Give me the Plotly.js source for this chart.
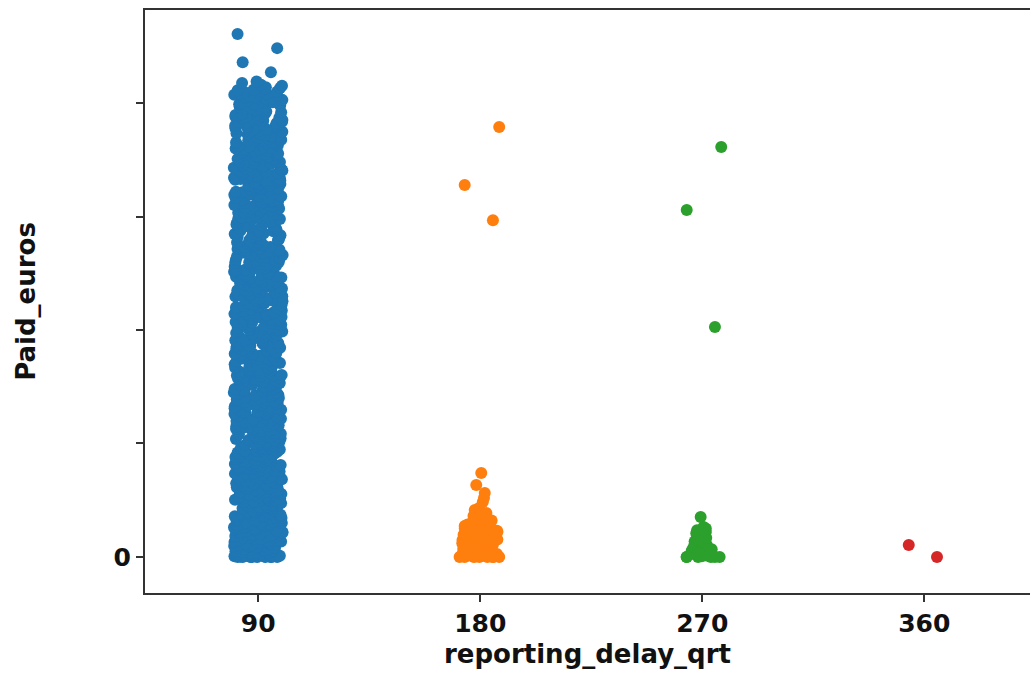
<!DOCTYPE html>
<html>
<head>
<meta charset="utf-8">
<script src="https://cdn.plot.ly/plotly-3.0.1.min.js"></script>
<style>html,body{margin:0;padding:0;background:#fff;}#chart{width:1030px;height:679px;}</style>
</head>
<body>
<div id="chart"></div>
<script>
// Categories (reporting delay in days)
const categories = ['90', '180', '270', '360'];
const colors = ['#1f77b4', '#ff7f0e', '#2ca02c', '#d62728'];

// Paid amounts (thousand euros)
const paid90 = [
0,0,0,0,0,0,0.1,0.2,0.3,0.3,0.5,0.6,0.8,0.9,1.1,1.3,1.4,1.7,1.9,2.2,2.4,2.7,2.9,3.2,3.5,3.7,4.1,4.4,4.6,5.0,5.3,5.5,5.9,6.2,6.6,6.8,7.3,7.6,7.9,8.3,8.6,8.9,9.2,9.5,9.8,
10.1,10.5,10.8,11.0,11.4,11.7,12.0,12.2,12.6,12.9,13.1,13.5,13.8,14.0,14.4,14.6,14.9,15.3,15.5,15.9,16.2,16.4,16.8,17.1,17.3,17.7,18.0,18.2,18.6,18.9,19.1,19.4,19.6,19.8,20.0,
20.3,20.6,21.0,21.2,21.5,21.9,22.2,22.4,22.8,23.1,23.3,23.7,24.0,24.3,24.5,24.9,25.2,25.6,25.8,26.1,26.5,26.8,27.0,27.4,27.7,28.0,28.3,28.5,28.9,29.2,29.5,29.8,
30.2,30.5,30.9,31.2,31.6,31.8,32.2,32.5,32.9,33.3,33.5,33.9,34.2,34.6,34.8,35.2,35.6,35.9,36.2,36.5,36.9,37.2,37.6,37.8,38.2,38.5,38.9,39.2,39.5,39.8,
40.2,40.5,40.9,41.3,41.6,41.9,42.3,42.6,42.9,43.3,43.6,44.0,44.3,44.6,44.9,45.3,45.6,46.0,46.3,46.6,47.0,47.3,47.6,48.0,48.3,48.6,49.0,49.3,49.6,49.9,
50.3,50.6,51.0,51.3,51.7,52.0,52.3,52.7,53.0,53.3,53.7,54.0,54.3,54.7,55.0,55.4,55.7,56.0,56.4,56.7,57.0,57.4,57.7,58.0,58.4,58.7,59.0,59.3,59.6,59.9,
60.3,60.7,61.1,61.5,61.9,62.2,62.6,63.0,63.4,63.8,64.1,64.5,64.9,65.3,65.7,66.0,66.4,66.8,67.2,67.6,68.0,68.3,68.7,69.1,69.5,69.9,
70.3,70.8,71.2,71.6,72.1,72.5,72.9,73.4,73.8,74.2,74.7,75.1,75.5,76.0,76.4,76.8,77.3,77.7,78.1,78.6,79.0,79.4,79.7,79.9,
80.2,80.6,81.1,81.4,81.9,82.3,82.6,83.1,83.5,83.8,84.3,84.7,85.0,85.5,85.9,86.2,86.7,87.1,87.4,87.9,88.3,88.6,89.1,89.5,89.8,
90.3,90.7,91.0,91.5,91.9,92.2,92.7,93.1,93.4,93.9,94.3,94.6,95.1,95.5,95.8,96.3,96.7,97.0,97.5,97.9,98.2,98.7,99.1,99.4,99.9,
100.2,100.7,101.1,101.4,101.9,102.3,102.6,103.1,103.5,103.8,104.3,104.7,105.0,105.5,105.9,106.2,106.7,107.1,107.4,107.9,108.3,108.6,109.1,109.5,109.8,
110.3,110.6,111.1,111.5,111.8,112.3,112.7,113.0,113.5,113.9,114.2,114.7,115.1,115.4,115.9,116.3,116.6,117.1,117.5,117.8,118.3,118.7,119.0,119.5,119.9,
120.2,120.7,121.1,121.4,121.9,122.3,122.6,123.1,123.5,123.8,124.3,124.7,125.0,125.5,125.9,126.2,126.7,127.1,127.4,127.9,128.3,128.6,129.1,129.5,129.8,
130.3,130.6,131.1,131.5,131.8,132.3,132.7,133.0,133.5,133.9,134.2,134.7,135.1,135.4,135.9,136.3,136.6,137.1,137.5,137.8,138.3,138.7,139.0,139.5,139.9,
140.2,140.7,141.1,141.4,141.9,142.3,142.6,143.1,143.5,143.8,144.3,144.7,145.0,145.5,145.9,146.2,146.7,147.1,147.4,147.9,148.3,148.6,149.1,149.5,149.8,
150.3,150.6,151.1,151.5,151.8,152.3,152.7,153.0,153.5,153.9,154.2,154.7,155.1,155.4,155.9,156.3,156.6,157.1,157.5,157.8,158.3,158.7,159.0,159.5,159.9,
160.2,160.7,161.1,161.4,161.9,162.3,162.6,163.1,163.5,163.8,164.3,164.7,165.0,165.5,165.9,166.2,166.7,167.1,167.4,167.9,168.3,168.6,169.1,169.5,169.8,
170.3,170.6,171.1,171.5,171.8,172.3,172.7,173.0,173.5,173.9,174.2,174.7,175.1,175.4,175.9,176.3,176.6,177.1,177.5,177.8,178.3,178.7,179.0,179.5,179.9,
180.2,180.7,181.1,181.4,181.9,182.3,182.6,183.1,183.5,183.8,184.3,184.7,185.0,185.5,185.9,186.2,186.7,187.1,187.4,187.9,188.3,188.6,189.1,189.5,189.8,
190.3,190.6,191.1,191.5,191.8,192.3,192.7,193.0,193.5,193.9,194.2,194.7,195.1,195.4,195.9,196.3,196.6,197.1,197.5,197.8,198.3,198.7,199.0,199.5,199.9,
200.3,200.9,201.4,202.0,202.6,203.1,203.7,204.2,204.8,205.3,205.9,206.4,207.0,207.6,208.1,208.8,209.5
];

// more claims in the 90-day group (the column is almost solid)
const paid90More = [
0,0,0,0.15,0.45,0.75,1.2,1.6,2.0,2.6,3.0,3.4,3.9,4.3,4.8,5.4,5.8,6.4,7.0,7.5,8.0,8.5,9.0,9.7,
10.3,10.9,11.6,12.4,13.0,13.7,14.2,14.7,15.2,15.8,16.6,17.2,17.9,18.5,19.2,
20.5,21.4,22.0,22.6,23.5,24.2,24.7,25.4,26.3,27.2,27.9,28.7,29.4,30.0,
30.7,31.4,32.0,32.7,33.6,34.4,35.0,35.8,36.7,37.4,38.0,38.7,39.4,
40.0,40.7,41.5,42.1,42.8,43.5,44.1,44.8,45.5,46.2,46.8,47.5,48.2,48.8,49.5,
50.1,50.8,51.5,52.2,52.8,53.5,54.2,54.8,55.5,56.2,56.9,57.5,58.2,58.9,59.5,
60.1,60.9,61.7,62.4,63.2,64.0,64.7,65.5,66.2,67.0,67.8,68.5,69.3,
70.0,70.6,71.4,72.3,73.1,74.0,74.9,75.8,76.6,77.5,78.4,79.2,
80.0,80.9,81.7,82.5,83.3,84.0,84.9,85.7,86.5,87.3,88.1,88.9,89.6,
90.5,91.3,92.0,92.9,93.7,94.5,95.3,96.0,96.9,97.7,98.5,99.3,
100.0,100.9,101.7,102.5,103.3,104.0,104.9,105.7,106.5,107.3,108.0,108.9,109.6,
110.0,110.9,111.7,112.5,113.3,114.0,114.9,115.7,116.5,117.3,118.0,118.9,119.6,
120.0,120.9,121.7,122.5,123.3,124.0,124.9,125.7,126.5,127.3,128.0,128.9,129.6,
130.0,130.9,131.7,132.5,133.3,134.0,134.9,135.7,136.5,137.3,138.0,138.9,139.6,
140.0,140.9,141.7,142.5,143.3,144.0,144.9,145.7,146.5,147.3,148.0,148.9,149.6,
150.0,150.9,151.7,152.5,153.3,154.0,154.9,155.7,156.5,157.3,158.0,158.9,159.6,
160.0,160.9,161.7,162.5,163.3,164.0,164.9,165.7,166.5,167.3,168.0,168.9,169.6,
170.0,170.9,171.7,172.5,173.3,174.0,174.9,175.7,176.5,177.3,178.0,178.9,179.6,
180.0,180.9,181.7,182.5,183.3,184.0,184.9,185.7,186.5,187.3,188.0,188.9,189.6,
190.0,190.9,191.7,192.5,193.3,194.0,194.9,195.7,196.5,197.3,198.0,198.9,199.6,
200.0,200.7,201.7,202.4,203.4,204.0,205.0,205.6,206.6
];
const paid90High = [213.6, 218.0, 224.2, 230.4];

const paid180 = [
0,0,0,0,0,0,0,0,0.2,0.3,0.5,0.6,0.8,1.0,1.1,1.3,1.5,1.6,1.8,2.0,2.1,2.3,2.5,2.6,2.8,3.0,3.1,3.3,3.5,3.6,
3.8,4.0,4.1,4.3,4.5,4.6,4.8,5.0,5.2,5.3,5.5,5.7,5.8,6.0,6.2,6.3,6.5,6.7,6.9,7.0,7.2,7.4,7.5,7.7,7.9,8.1,
8.2,8.4,8.6,8.8,8.9,9.1,9.3,9.5,9.6,9.8,10.0,10.2,10.4,10.5,10.7,10.9,11.1,11.3,11.5,11.7,11.9,12.1,12.3,
12.5,12.7,12.9,13.1,13.4,13.6,13.8,14.1,14.3,14.6,14.8,15.1,15.4,15.7,16.0,16.4,16.8,17.3,18.0,18.7,19.4,
20.7,21.6,24.2,26.0,28.2,31.7,37.0
];
const paid180High = [148.4, 163.9, 189.4];

const paid270 = [
0,0,0,0,0,0,0.3,0.6,1.0,1.3,1.6,2.0,2.3,2.7,3.0,3.4,3.8,4.2,4.6,5.0,5.4,5.8,6.3,6.8,7.3,7.8,8.4,9.0,9.7,
10.4,11.0,11.8,12.5,13.2,17.6
];
const paid270High = [101.3, 152.9, 180.6];

const paid360 = [0, 5.3];

// Tick labels on the value axis (only zero is labelled in the reference)
const yTickVals = [0, 50, 100, 150, 200];
const yTickText = ['0', '', '', '', ''];

const groups = [
  {cat: '90', values: paid90.concat(paid90More), color: colors[0]},
  {cat: '90', values: paid90High, color: colors[0]},
  {cat: '180', values: paid180, color: colors[1]},
  {cat: '180', values: paid180High, color: colors[1]},
  {cat: '270', values: paid270, color: colors[2]},
  {cat: '270', values: paid270High, color: colors[2]},
  {cat: '360', values: paid360, color: colors[3]}
];

const traces = groups.map(g => ({
  type: 'box',
  name: g.cat,
  x0: g.cat,
  y: g.values,
  boxpoints: 'all',
  jitter: 1,
  pointpos: 0,
  width: 0.22,
  fillcolor: 'rgba(0,0,0,0)',
  line: {width: 0, color: 'rgba(0,0,0,0)'},
  marker: {color: g.color, size: 12, opacity: 1, line: {width: 0}},
  hoveron: 'points',
  showlegend: false
}));

const tickFont = {family: 'DejaVu Sans', size: 25, weight: 'bold', color: '#111'};
const titleFont = {family: 'DejaVu Sans', size: 26, weight: 'bold', color: '#111'};

const layout = {
  width: 1030,
  height: 679,
  margin: {l: 145, r: 0, t: 10, b: 86},
  paper_bgcolor: '#fff',
  plot_bgcolor: '#fff',
  showlegend: false,
  boxmode: 'overlay',
  xaxis: {
    type: 'category',
    categoryorder: 'array',
    categoryarray: categories,
    range: [-0.51, 3.476],
    showgrid: false,
    zeroline: false,
    showline: true,
    mirror: true,
    linecolor: '#333',
    linewidth: 2,
    ticks: 'outside',
    ticklen: 7,
    tickwidth: 2,
    tickcolor: '#333',
    tickfont: tickFont,
    title: {text: 'reporting_delay_qrt', font: titleFont, standoff: 8}
  },
  yaxis: {
    range: [-15.9, 241],
    tickvals: yTickVals,
    ticktext: yTickText,
    showgrid: false,
    zeroline: false,
    showline: true,
    linecolor: '#333',
    linewidth: 2,
    ticks: 'outside',
    ticklen: 7,
    tickwidth: 2,
    tickcolor: '#333',
    tickfont: tickFont,
    automargin: true,
    title: {text: 'Paid_euros', font: titleFont, standoff: 70}
  }
};

Plotly.newPlot('chart', traces, layout, {displayModeBar: false, staticPlot: true});
</script>
</body>
</html>
